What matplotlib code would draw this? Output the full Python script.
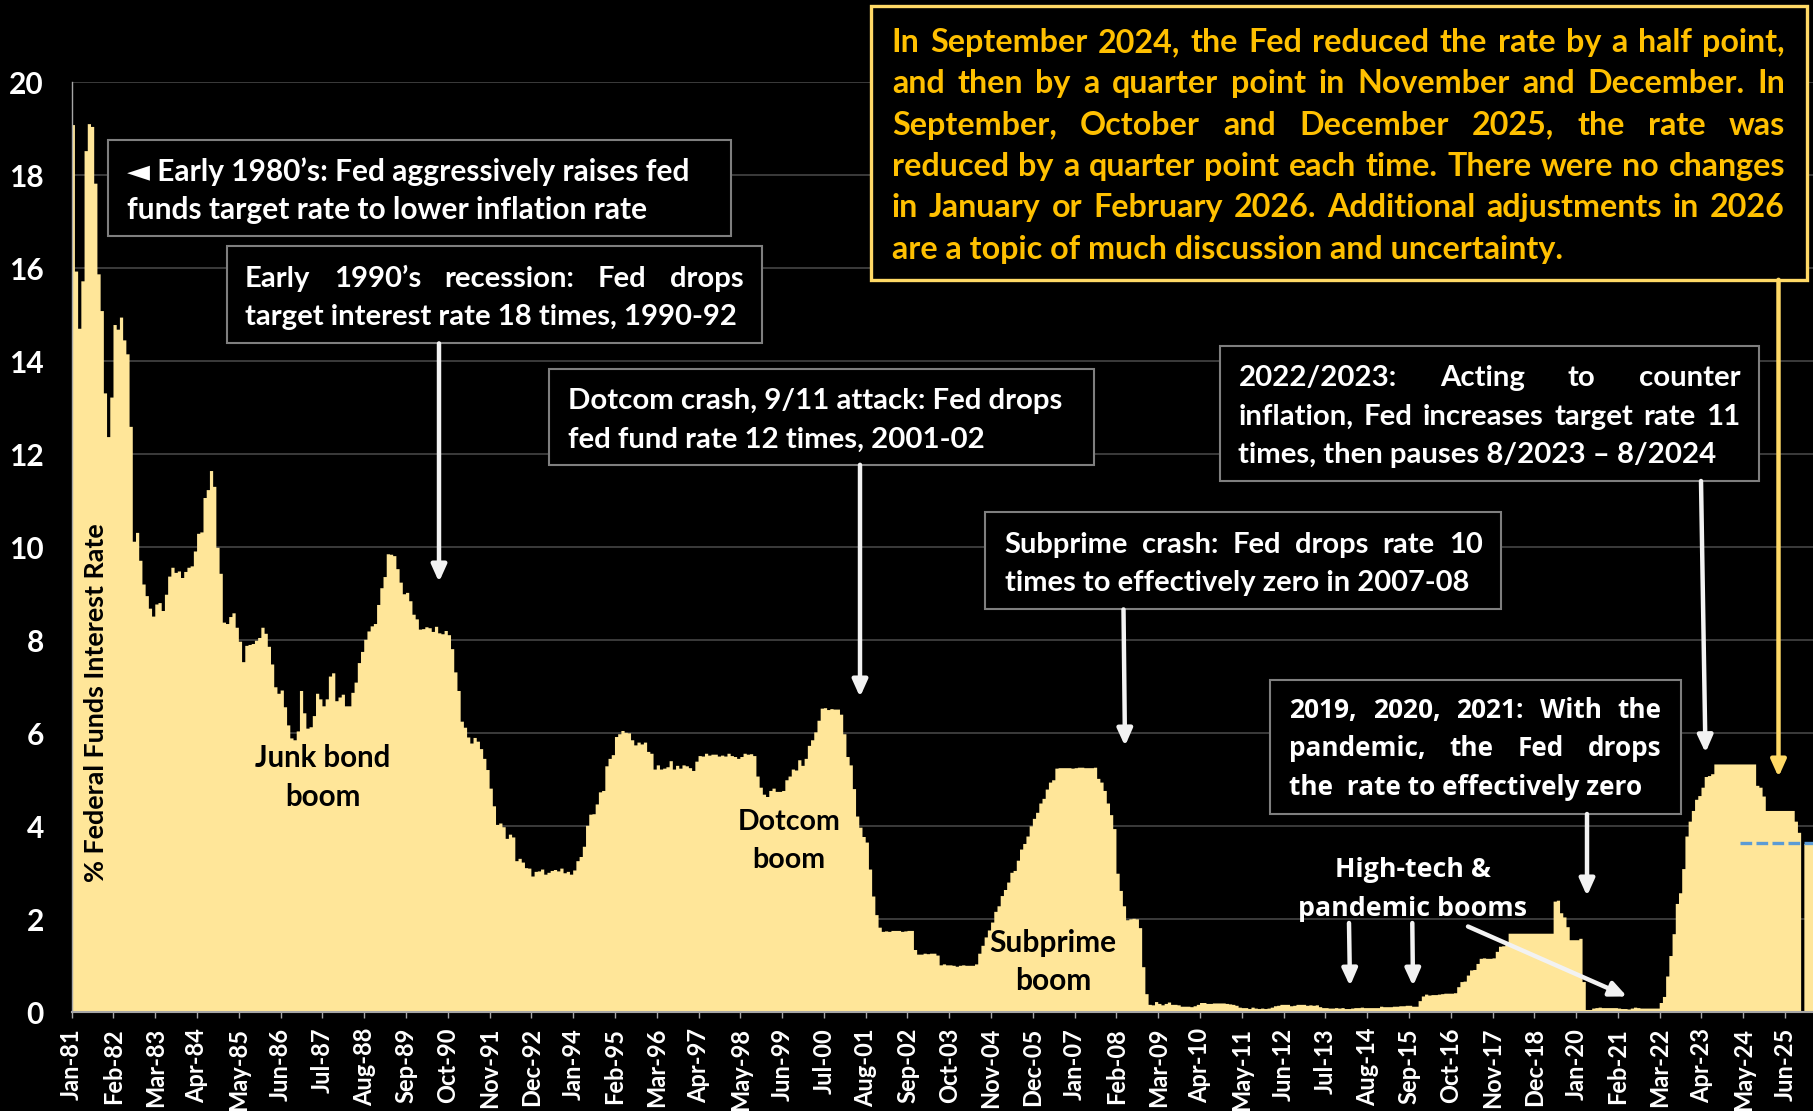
import numpy as np
import matplotlib.pyplot as plt
from matplotlib.patches import Rectangle, FancyArrowPatch

nan = np.nan

# monthly fed funds rate (%), Jan 1981 onwards
rates_1981_1990 = [
    19.08, 15.93, 14.70, 15.72, 18.52, 19.10, 19.04, 17.82, 15.87, 15.08, 13.31, 12.37,
    13.22, 14.78, 14.68, 14.94, 14.45, 14.15, 12.59, 10.12, 10.31, 9.71, 9.20, 8.95,
    8.68, 8.51, 8.77, 8.80, 8.63, 8.98, 9.37, 9.56, 9.45, 9.48, 9.34, 9.47,
    9.56, 9.59, 9.91, 10.29, 10.32, 11.06, 11.23, 11.64, 11.30, 9.99, 9.43, 8.38,
    8.35, 8.50, 8.58, 8.27, 7.97, 7.53, 7.88, 7.90, 7.92, 7.99, 8.05, 8.27,
    8.14, 7.86, 7.48, 6.99, 6.85, 6.92, 6.56, 6.17, 5.89, 5.85, 6.04, 6.91,
    6.43, 6.10, 6.13, 6.37, 6.85, 6.73, 6.58, 6.73, 7.22, 7.29, 6.69, 6.77,
    6.83, 6.58, 6.58, 6.87, 7.09, 7.51, 7.75, 8.01, 8.19, 8.30, 8.35, 8.76,
    9.12, 9.36, 9.85, 9.84, 9.81, 9.53, 9.24, 8.99, 9.02, 8.84, 8.55, 8.45,
    8.23, 8.24, 8.28, 8.26, 8.18, 8.29, 8.15, 8.13, 8.20, 8.11, 7.81, 7.31,
]
rates_1991_2000 = [
    6.91, 6.25, 6.12, 5.91, 5.78, 5.90, 5.82, 5.66, 5.45, 5.21, 4.81, 4.43,
    4.03, 4.06, 3.98, 3.73, 3.82, 3.76, 3.25, 3.30, 3.22, 3.10, 3.09, 2.92,
    3.02, 3.03, 3.07, 2.96, 3.00, 3.04, 3.06, 3.03, 3.09, 2.99, 3.02, 2.96,
    3.05, 3.25, 3.34, 3.56, 4.01, 4.25, 4.26, 4.47, 4.73, 4.76, 5.29, 5.45,
    5.53, 5.92, 5.98, 6.05, 6.01, 6.00, 5.85, 5.74, 5.80, 5.76, 5.80, 5.60,
    5.56, 5.22, 5.31, 5.22, 5.24, 5.27, 5.40, 5.22, 5.30, 5.24, 5.31, 5.29,
    5.25, 5.19, 5.39, 5.51, 5.50, 5.56, 5.52, 5.54, 5.54, 5.50, 5.52, 5.50,
    5.56, 5.51, 5.49, 5.45, 5.49, 5.56, 5.54, 5.55, 5.51, 5.07, 4.83, 4.68,
    4.63, 4.76, 4.81, 4.74, 4.74, 4.76, 4.99, 5.07, 5.22, 5.20, 5.42, 5.30,
    5.45, 5.73, 5.85, 6.02, 6.27, 6.53, 6.54, 6.50, 6.52, 6.51, 6.51, 6.40,
]
rates_2001_2010 = [
    5.98, 5.49, 5.31, 4.80, 4.21, 3.97, 3.77, 3.65, 3.07, 2.49, 2.09, 1.82,
    1.73, 1.74, 1.73, 1.75, 1.75, 1.75, 1.73, 1.74, 1.75, 1.75, 1.34, 1.24,
    1.24, 1.26, 1.25, 1.26, 1.26, 1.22, 1.01, 1.03, 1.01, 1.01, 1.00, 0.98,
    1.00, 1.01, 1.00, 1.00, 1.00, 1.03, 1.26, 1.43, 1.61, 1.76, 1.93, 2.16,
    2.28, 2.50, 2.63, 2.79, 3.00, 3.04, 3.26, 3.50, 3.62, 3.78, 4.00, 4.16,
    4.29, 4.49, 4.59, 4.79, 4.94, 4.99, 5.24, 5.25, 5.25, 5.25, 5.25, 5.24,
    5.25, 5.26, 5.26, 5.25, 5.25, 5.25, 5.26, 5.02, 4.94, 4.76, 4.49, 4.24,
    3.94, 2.98, 2.61, 2.28, 1.98, 2.00, 2.01, 2.00, 1.81, 0.97, 0.39, 0.16,
    0.15, 0.22, 0.18, 0.15, 0.18, 0.21, 0.16, 0.16, 0.15, 0.12, 0.12, 0.12,
    0.11, 0.13, 0.16, 0.20, 0.20, 0.18, 0.18, 0.19, 0.19, 0.19, 0.19, 0.18,
]
rates_2011_2020 = [
    0.17, 0.16, 0.14, 0.10, 0.09, 0.09, 0.07, 0.10, 0.08, 0.07, 0.08, 0.07,
    0.08, 0.10, 0.13, 0.14, 0.16, 0.16, 0.16, 0.13, 0.14, 0.16, 0.16, 0.16,
    0.14, 0.15, 0.14, 0.15, 0.11, 0.09, 0.09, 0.08, 0.08, 0.09, 0.08, 0.09,
    0.07, 0.07, 0.08, 0.09, 0.09, 0.10, 0.09, 0.09, 0.09, 0.09, 0.09, 0.12,
    0.11, 0.11, 0.11, 0.12, 0.12, 0.13, 0.13, 0.14, 0.14, 0.12, 0.12, 0.24,
    0.34, 0.38, 0.36, 0.37, 0.37, 0.38, 0.39, 0.40, 0.40, 0.40, 0.41, 0.54,
    0.65, 0.66, 0.79, 0.90, 0.91, 1.04, 1.15, 1.16, 1.15, 1.15, 1.16, 1.30,
    1.41, 1.42, 1.51, 1.69, 1.69, 1.69, 1.69, 1.69, 1.69, 1.69, 1.69, 1.69,
    1.69, 1.69, 1.69, 1.69, 1.69, 2.38, 2.40, 2.13, 2.04, 1.83, 1.55, 1.55,
    1.55, 1.58, 0.65, 0.05, 0.05, 0.08, 0.09, 0.10, 0.09, 0.09, 0.09, 0.09,
]
rates_2021_2026 = [
    0.09, 0.08, 0.07, 0.07, 0.06, 0.08, 0.10, 0.09, 0.08, 0.08, 0.08, 0.08,
    0.08, 0.08, 0.20, 0.33, 0.77, 1.21, 1.68, 2.33, 2.56, 3.08, 3.78, 4.10,
    4.33, 4.57, 4.65, 4.83, 5.06, 5.08, 5.12, 5.33, 5.33, 5.33, 5.33, 5.33,
    5.33, 5.33, 5.33, 5.33, 5.33, 5.33, 5.33, 5.33, 4.87, 4.83, 4.64, 4.33,
    4.33, 4.33, 4.33, 4.33, 4.33, 4.33, 4.33, 4.33, 4.10, 3.86, nan, 3.62,
    3.62, 3.62,
]

start_year = 1981
tick_every = 13
month_names = ['Jan', 'Feb', 'Mar', 'Apr', 'May', 'Jun',
               'Jul', 'Aug', 'Sep', 'Oct', 'Nov', 'Dec']
y_ticks = list(range(0, 21, 2))

# dashed level line at the right end
level_rate = 3.64
level_from = (2024, 4)

rates = np.array(rates_1981_1990 + rates_1991_2000 + rates_2001_2010 +
                 rates_2011_2020 + rates_2021_2026, dtype=float)
n = len(rates)
tick_pos = np.arange(0, n, tick_every)
tick_lab = [f"{month_names[i % 12]}-{(start_year + i // 12) % 100:02d}" for i in tick_pos]
level_x0 = (level_from[0] - start_year) * 12 + level_from[1] - 1

W, H, DPI = 1813, 1111, 100
FONT = ['Lato', 'DejaVu Sans']
FONT2 = ['Open Sans', 'DejaVu Sans']
plt.rcParams['font.family'] = FONT
plt.rcParams['font.weight'] = 'bold'

fig = plt.figure(figsize=(W / DPI, H / DPI), dpi=DPI, facecolor='black')
renderer = fig.canvas.get_renderer()


def fx(x):
    return x / W


def fy(y):
    return 1 - y / H


ax = fig.add_axes([fx(71.7), fy(1012.3), (1814 - 71.7) / W, (1012.3 - 82.3) / H])
ax.set_facecolor('black')
ax.stairs(rates, np.arange(n + 1), fill=True, color='#FFE699', baseline=0, zorder=2)
ax.plot([level_x0, n], [level_rate, level_rate], color='#5B9BD5', lw=2.4,
        ls=(0, (3.5, 1.3)), dash_capstyle='butt', zorder=3)

ax.set_xlim(0, n)
ax.set_ylim(0, 20)
ax.set_xticks(tick_pos, tick_lab, rotation=90)
ax.set_yticks(y_ticks)
ax.tick_params(axis='x', length=4.3, width=1, color='#A6A6A6', labelcolor='white',
               labelsize=17, pad=7)
ax.tick_params(axis='y', length=0, labelcolor='white', labelsize=21.5, pad=20)
ax.yaxis.grid(True, color='#404040', lw=1.3)
ax.set_axisbelow(True)
for s in ['top', 'right']:
    ax.spines[s].set_visible(False)
ax.spines['left'].set_color('#A6A6A6')
ax.spines['left'].set_linewidth(1)
ax.spines['bottom'].set_color('#A6A6A6')
ax.spines['bottom'].set_linewidth(1.5)


# ---- annotation helpers (positions in pixels from the top-left corner) ----
def text_w(s, size, family):
    t = fig.text(0, 0, s, fontsize=size, family=family, weight='bold')
    w = t.get_window_extent(renderer).width
    t.remove()
    return w


def fit(s, width, family=FONT):
    return 20 * width / text_w(s, 20, family)


def line(s, x, yc, size, color, family=FONT, x1=None, ha='left'):
    yb = fy(yc + 0.36 * size * DPI / 72)
    kw = dict(fontsize=size, family=family, weight='bold', color=color,
              va='baseline', zorder=6)
    if x1 is None:
        fig.text(fx(x), yb, s, ha=ha, **kw)
        return
    words = s.split()
    ws = [text_w(w, size, family) for w in words]
    gap = (x1 - x - sum(ws)) / (len(words) - 1)
    for w, wd in zip(words, ws):
        fig.text(fx(x), yb, w, ha='left', **kw)
        x += wd + gap


def box(x0, y0, x1, y1, edge='#7F7F7F', lw=1.5):
    fig.add_artist(Rectangle((fx(x0), fy(y1)), (x1 - x0) / W, (y1 - y0) / H,
                             transform=fig.transFigure, facecolor='black',
                             edgecolor=edge, linewidth=lw, zorder=5))


def note(rect, lines, left, right, centers, justify, ref, ref_w,
         color='white', family=FONT, edge='#7F7F7F', lw=1.5):
    box(*rect, edge=edge, lw=lw)
    size = fit(lines[ref], ref_w, family)
    for s, yc, j in zip(lines, centers, justify):
        line(s, left, yc, size, color, family, x1=right if j else None)


def arrow(x0, y0, x1, y1, color='#F2F2F2'):
    fig.add_artist(FancyArrowPatch((fx(x0), fy(y0)), (fx(x1), fy(y1)),
                                   transform=fig.transFigure,
                                   arrowstyle='-|>,head_length=1.0,head_width=0.45',
                                   mutation_scale=10, color=color, lw=3.2,
                                   shrinkA=0, shrinkB=0, zorder=7))


def label(lines, xc, centers, ref_w, color='black', family=FONT):
    size = fit(lines[0], ref_w, family)
    for s, yc in zip(lines, centers):
        line(s, xc, yc, size, color, family, ha='center')


# boxes
note((107.5, 139.9, 730.8, 235.9),
     ['\u25C4 Early 1980\u2019s: Fed aggressively raises fed',
      'funds target rate to lower inflation rate'],
     127.2, None, [170, 208], [False, False], 1, 520)
note((226.6, 246.3, 762, 343.4),
     ['Early 1990\u2019s recession: Fed drops',
      'target interest rate 18 times, 1990-92'],
     245.1, 743.5, [276.3, 314.5], [True, False], 1, 491.5)
note((549.2, 368.9, 1093.9, 464.8),
     ['Dotcom crash, 9/11 attack: Fed drops',
      'fed fund rate 12 times, 2001-02'],
     567.7, None, [398.9, 437.1], [False, False], 0, 495)
note((985.2, 512.2, 1500.9, 609.4),
     ['Subprime crash: Fed drops rate 10',
      'times to effectively zero in 2007-08'],
     1004.8, 1482.4, [542.3, 580.5], [True, False], 1, 465)
note((1219.9, 345.7, 1758.8, 481),
     ['2022/2023: Acting to counter',
      'inflation, Fed increases target rate 11',
      'times, then pauses 8/2023 \u2013 8/2024'],
     1238.4, 1740.2, [375.8, 414, 452.1], [True, True, False], 2, 477.6)
note((1269.6, 679.9, 1681.3, 814),
     ['2019, 2020, 2021: With the',
      'pandemic, the Fed drops',
      'the  rate to effectively zero'],
     1289.3, 1661.6, [708.8, 747, 785.1], [True, True, False], 2, 354,
     family=FONT2)
note((870.7, 5.8, 1807.3, 279.8),
     ['In September 2024, the Fed reduced the rate by a half point,',
      'and then by a quarter point in November and December. In',
      'September, October and December 2025, the rate was',
      'reduced by a quarter point each time. There were no changes',
      'in January or February 2026. Additional adjustments in 2026',
      'are a topic of much discussion and uncertainty.'],
     891.8, 1785, [40.5, 81.3, 123, 164.6, 205.4, 247], [True] * 5 + [False], 5, 672,
     color='#FFC000', edge='#FFD966', lw=2.4)

# arrows
arrow(439, 343.4, 439, 582)
arrow(860, 464.8, 860, 697)
arrow(1123.5, 609.4, 1125, 746)
arrow(1701, 481, 1705.5, 752.7)
arrow(1778.5, 279.8, 1778.5, 777, color='#FFD966')
arrow(1587, 814, 1587, 896)
arrow(1349, 923, 1350, 986)
arrow(1412.3, 923, 1413, 986)
arrow(1468, 926.5, 1627, 996.5)

# labels on the chart
label(['Junk bond', 'boom'], 323, [756, 795.5], 136)
label(['Dotcom', 'boom'], 789, [820, 858], 102.5)
label(['Subprime', 'boom'], 1053, [941.2, 979.4], 127)
label(['High-tech &', 'pandemic booms'], 1413, [867, 906.5], 155.7,
      color='white', family=FONT2)

ylab_size = fit('% Federal Funds Interest Rate', 360)
fig.text(fx(96), fy(703), '% Federal Funds Interest Rate', rotation=90,
         ha='center', va='center', fontsize=ylab_size, color='black', zorder=6)

fig.savefig('out.png', dpi=DPI, facecolor='black')
